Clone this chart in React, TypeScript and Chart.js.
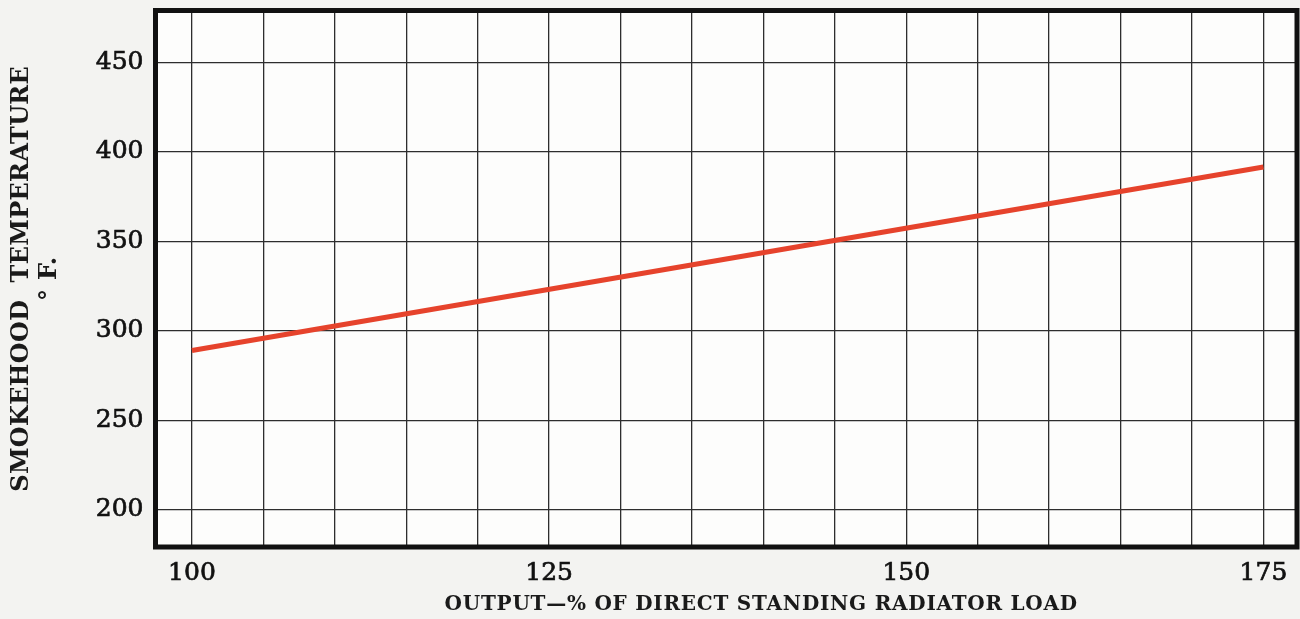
import React, { useEffect, useRef } from 'react';
import { Chart, registerables } from 'chart.js';

Chart.register(...registerables);

// ---- data ----
const outputPct = [100, 175];
const smokehoodTemp = [289, 391.5];
const xGridValues = [100, 105, 110, 115, 120, 125, 130, 135, 140, 145, 150, 155, 160, 165, 170, 175];
const xLabelValues = [100, 125, 150, 175];
const yGridValues = [200, 250, 300, 350, 400, 450];
const xTitle = 'OUTPUT\u2014% OF DIRECT STANDING RADIATOR LOAD';
const yTitle = ['SMOKEHOOD  TEMPERATURE', '\u00B0 F.'];

const SERIF = '"DejaVu Serif", "Liberation Serif", serif';

const paperPlugin = {
  id: 'paper',
  beforeDraw(chart: any) {
    const { ctx, chartArea } = chart;
    ctx.save();
    ctx.fillStyle = '#f3f3f1';
    ctx.fillRect(0, 0, chart.width, chart.height);
    ctx.fillStyle = '#fdfdfc';
    ctx.fillRect(chartArea.left, chartArea.top, chartArea.right - chartArea.left, chartArea.bottom - chartArea.top);
    ctx.restore();
    const specs: [string, string, number][] = [
      ['x', '0.75px', 35],
      ['y', '0.3px', 0],
    ];
    for (const [id, sp, dx] of specs) {
      const s: any = chart.scales[id];
      if (!s || s.__wrapped) continue;
      const orig = s.drawTitle.bind(s);
      s.drawTitle = () => {
        const c = chart.ctx;
        c.save();
        c.letterSpacing = sp;
        c.translate(dx, 0);
        orig();
        c.restore();
      };
      s.__wrapped = true;
    }
  },
  afterDatasetsDraw(chart: any) {
    const { ctx, chartArea } = chart;
    ctx.save();
    ctx.strokeStyle = '#111111';
    ctx.lineWidth = 5;
    ctx.strokeRect(chartArea.left, chartArea.top, chartArea.right - chartArea.left, chartArea.bottom - chartArea.top);
    ctx.restore();
  },
};

export default function App() {
  const canvasRef = useRef<HTMLCanvasElement | null>(null);

  useEffect(() => {
    if (!canvasRef.current) return;
    const chart = new Chart(canvasRef.current, {
      type: 'line',
      data: {
        datasets: [
          {
            data: outputPct.map((x, i) => ({ x, y: smokehoodTemp[i] })),
            borderColor: '#e6432c',
            borderWidth: 5,
            pointRadius: 0,
            tension: 0,
            fill: false,
          },
        ],
      },
      options: {
        animation: false,
        responsive: true,
        maintainAspectRatio: false,
        layout: { padding: { left: 0, right: 3, top: 10.5, bottom: 0 } },
        plugins: { legend: { display: false }, tooltip: { enabled: false } },
        scales: {
          x: {
            type: 'linear',
            min: 97.45,
            max: 177.35,
            afterBuildTicks: (s: any) => {
              s.ticks = xGridValues.map((v) => ({ value: v }));
            },
            afterFit: (s: any) => {
              s.height = 72;
              s.paddingLeft = 0;
              s.paddingRight = 0;
            },
            ticks: {
              autoSkip: false,
              maxRotation: 0,
              padding: 11,
              color: '#111111',
              textStrokeColor: '#111111',
              textStrokeWidth: 0.7,
              font: { family: SERIF, size: 25 },
              callback: (v: any) => (xLabelValues.includes(Number(v)) ? String(v) : ''),
            },
            grid: { color: '#2e2e2e', lineWidth: 1.3, drawTicks: false },
            border: { display: false },
            title: {
              display: true,
              text: xTitle,
              color: '#1a1a1a',
              font: { family: SERIF, size: 20, weight: 'bold', lineHeight: 1.2 },
              padding: { top: 0, bottom: 2 },
            },
          },
          y: {
            type: 'linear',
            min: 179.3,
            max: 478.9,
            afterBuildTicks: (s: any) => {
              s.ticks = yGridValues.map((v) => ({ value: v }));
            },
            afterFit: (s: any) => {
              s.width = 155.5;
              s.paddingTop = 0;
              s.paddingBottom = 0;
            },
            ticks: {
              padding: 12,
              color: '#111111',
              textStrokeColor: '#111111',
              textStrokeWidth: 0.7,
              font: { family: SERIF, size: 25 },
            },
            grid: { color: '#2e2e2e', lineWidth: 1.3, drawTicks: false },
            border: { display: false },
            title: {
              display: true,
              text: yTitle,
              color: '#1a1a1a',
              font: { family: SERIF, size: 24, weight: 'bold', lineHeight: 1.15 },
              padding: { top: 8, bottom: 0 },
            },
          },
        },
      },
      plugins: [paperPlugin],
    });
    return () => chart.destroy();
  }, []);

  return (
    <div style={{ position: 'fixed', left: 0, top: 0, width: 1300, height: 619, background: '#f3f3f1' }}>
      <canvas ref={canvasRef} />
    </div>
  );
}
